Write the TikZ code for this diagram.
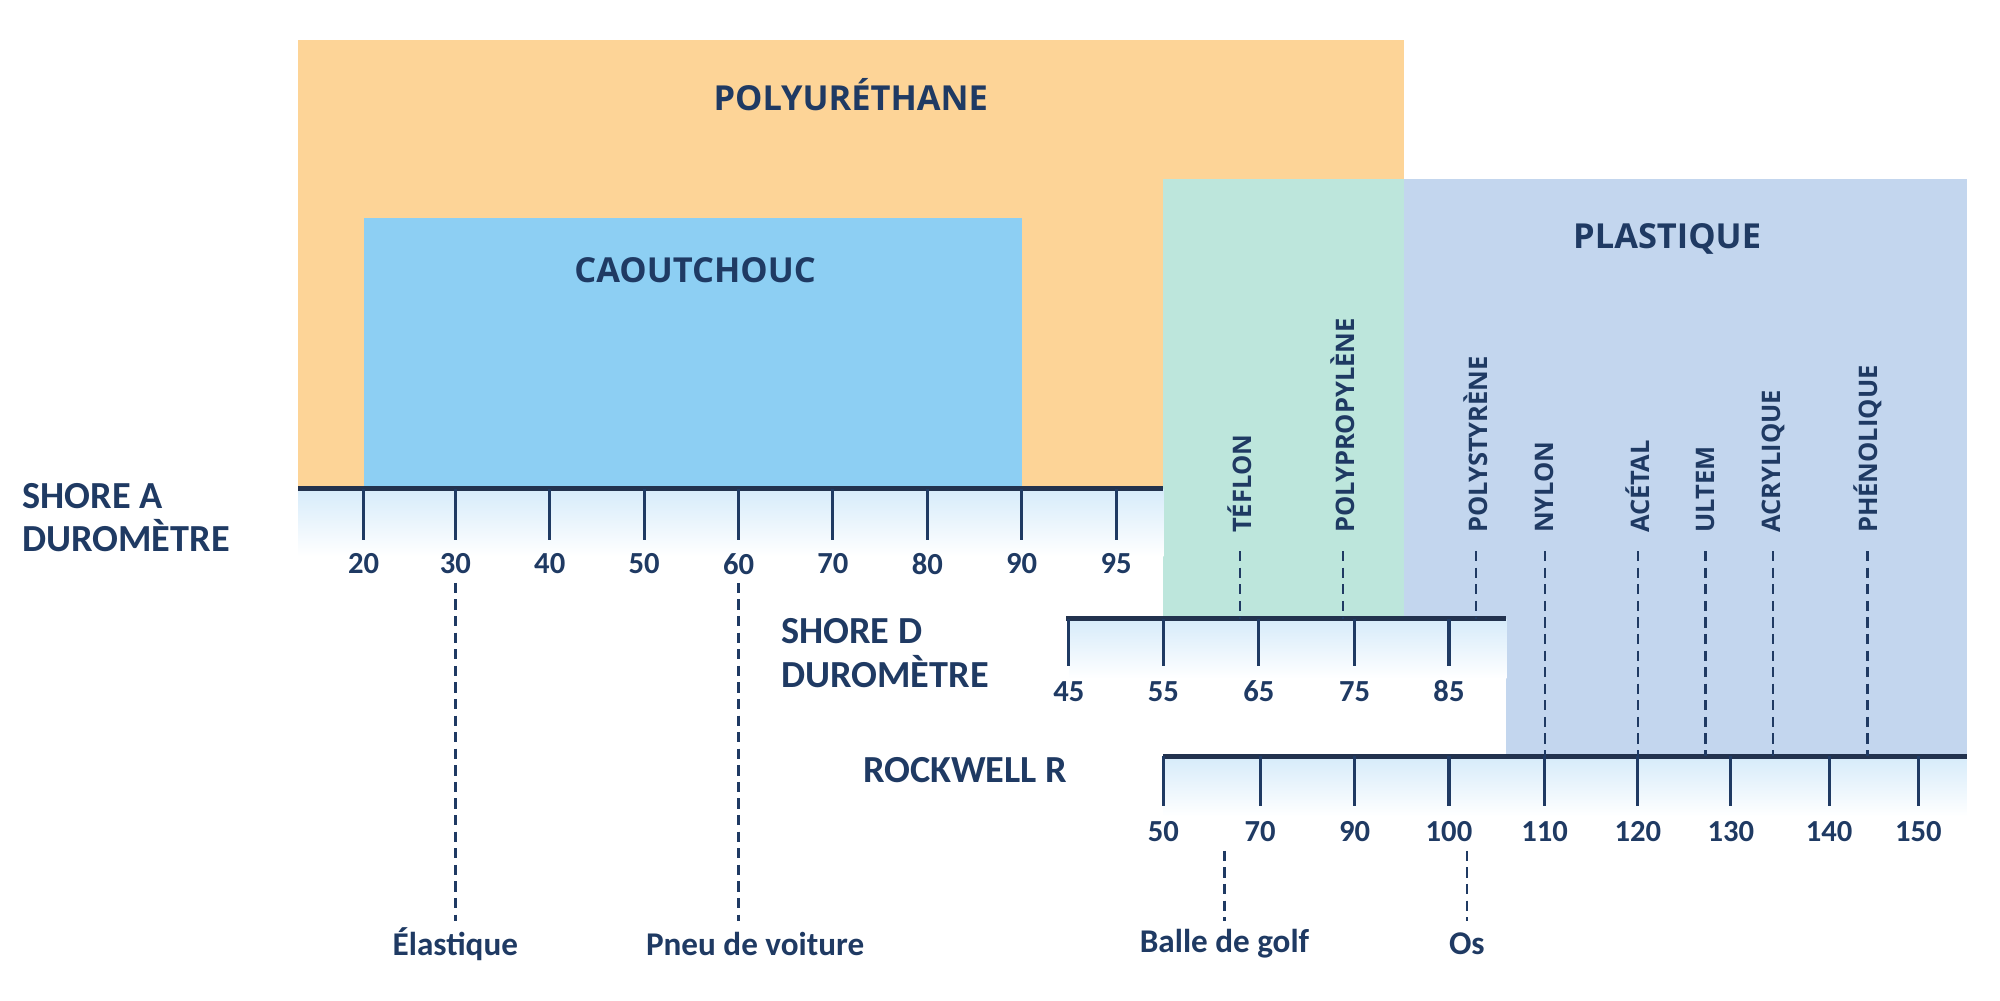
\documentclass[tikz,border=0pt]{standalone}
\usepackage{fontspec}
\setmainfont{Carlito}
\newfontfamily\osans{Open Sans}
\definecolor{navy}{HTML}{1F3A63}
\definecolor{axisc}{HTML}{22324E}
\definecolor{orng}{HTML}{FDD497}
\definecolor{rubb}{HTML}{8DCFF3}
\definecolor{teal}{HTML}{BDE6DC}
\definecolor{plas}{HTML}{C3D6EE}
\definecolor{grad}{HTML}{D6EBFA}
\begin{document}
\begin{tikzpicture}[x=1pt,y=-1pt,
  axis/.style={line width=4pt,draw=axisc},
  tick/.style={line width=2.4pt,draw=navy},
  dsh/.style={line width=1.8pt,draw=navy,dash pattern=on 8pt off 5pt},
  num/.style={text=navy,font=\fontsize{24}{24}\selectfont\bfseries},
  axname/.style={text=navy,font=\fontsize{30}{34}\selectfont\bfseries,align=left},
  title/.style={text=navy,font=\osans\fontsize{27}{27}\selectfont\bfseries},
  mat/.style={text=navy,font=\osans\fontsize{20}{20}\selectfont\bfseries,rotate=90,anchor=west,inner sep=0pt},
  ex/.style={text=navy,font=\fontsize{26}{26}\selectfont\bfseries}]
\useasboundingbox (0,0) rectangle (1568,784);
% regions
\fill[orng] (234,31) rectangle (1101,383);
\fill[rubb] (285,171) rectangle (801,383);
\fill[teal] (912,140) rectangle (1101,484);
\fill[plas] (1101,140) rectangle (1542,484);
\fill[plas] (1181,484) rectangle (1542,593);
\node[title] (pu) at (667,74) {POLYURÉTHANE};
\node[title] (ca) at (545,212) {CAOUTCHOUC};
\node[title] (pl) at (1307,187) {PLASTIQUE};
% gradients
\shade[top color=grad,bottom color=white] (234,383) rectangle (912,436);
\shade[top color=grad,bottom color=white] (838,485) rectangle (1181,532);
\shade[top color=grad,bottom color=white] (912,593) rectangle (1542,640);
% Shore A
\draw[axis] (234,383) -- (912,383);
\foreach \x/\l in {285/20,357/30,431/40,505/50,579/60,653/70,727/80,801/90,875/95}{
  \draw[tick] (\x,383) -- (\x,423);
  \node[num] (a\l) at (\x,442) {\l};}
\node[axname,anchor=west] (sa) at (14,406) {SHORE A\\DUROMÈTRE};
% Shore D
\draw[axis] (836,485) -- (1181,485);
\foreach \x/\l in {838/45,912/55,987/65,1062/75,1136/85}{
  \draw[tick] (\x,485) -- (\x,522);
  \node[num] (d\l) at (\x,542) {\l};}
\node[axname,anchor=west] (sd) at (609,512) {SHORE D\\DUROMÈTRE};
% Rockwell
\draw[axis] (912,593) -- (1542,593);
\foreach \x/\l in {912/50,988/70,1062/90,1136/100,1211/110,1284/120,1357/130,1434/140,1504/150}{
  \draw[tick] (\x,593) -- (\x,632);
  \node[num] (r\l) at (\x,652) {\l};}
\node[axname,anchor=east] (rr) at (840,604) {ROCKWELL R};
% materials
\foreach \n/\x/\t/\e in {tf/972/TÉFLON/485,pp/1053/POLYPROPYLÈNE/485,ps/1157/POLYSTYRÈNE/485,ny/1211/NYLON/593,ac/1284/ACÉTAL/593,ul/1337/ULTEM/593,ay/1390/ACRYLIQUE/593,ph/1464/PHÉNOLIQUE/593}{
  \node[mat] (\n) at (\x,418) {\t};
  \coordinate (\n e) at (\x,\e);
  \draw[dsh] (\x,432) -- (\n e);}
% examples
\node[ex] (el) at (357,740) {Élastique};
\node[ex] (pn) at (592,740) {Pneu de voiture};
\node[ex] (bg) at (960,740) {Balle de golf};
\node[ex] (os) at (1150,740) {Os};
\coordinate (elt) at (357,457);
\coordinate (pnt) at (579,457);
\coordinate (bgt) at (960,667);
\coordinate (ost) at (1150,667);
\draw[dsh] (elt) -- (357,722);
\draw[dsh] (pnt) -- (579,722);
\draw[dsh] (bgt) -- (960,722);
\draw[dsh] (ost) -- (1150,722);
\end{tikzpicture}
\end{document}
